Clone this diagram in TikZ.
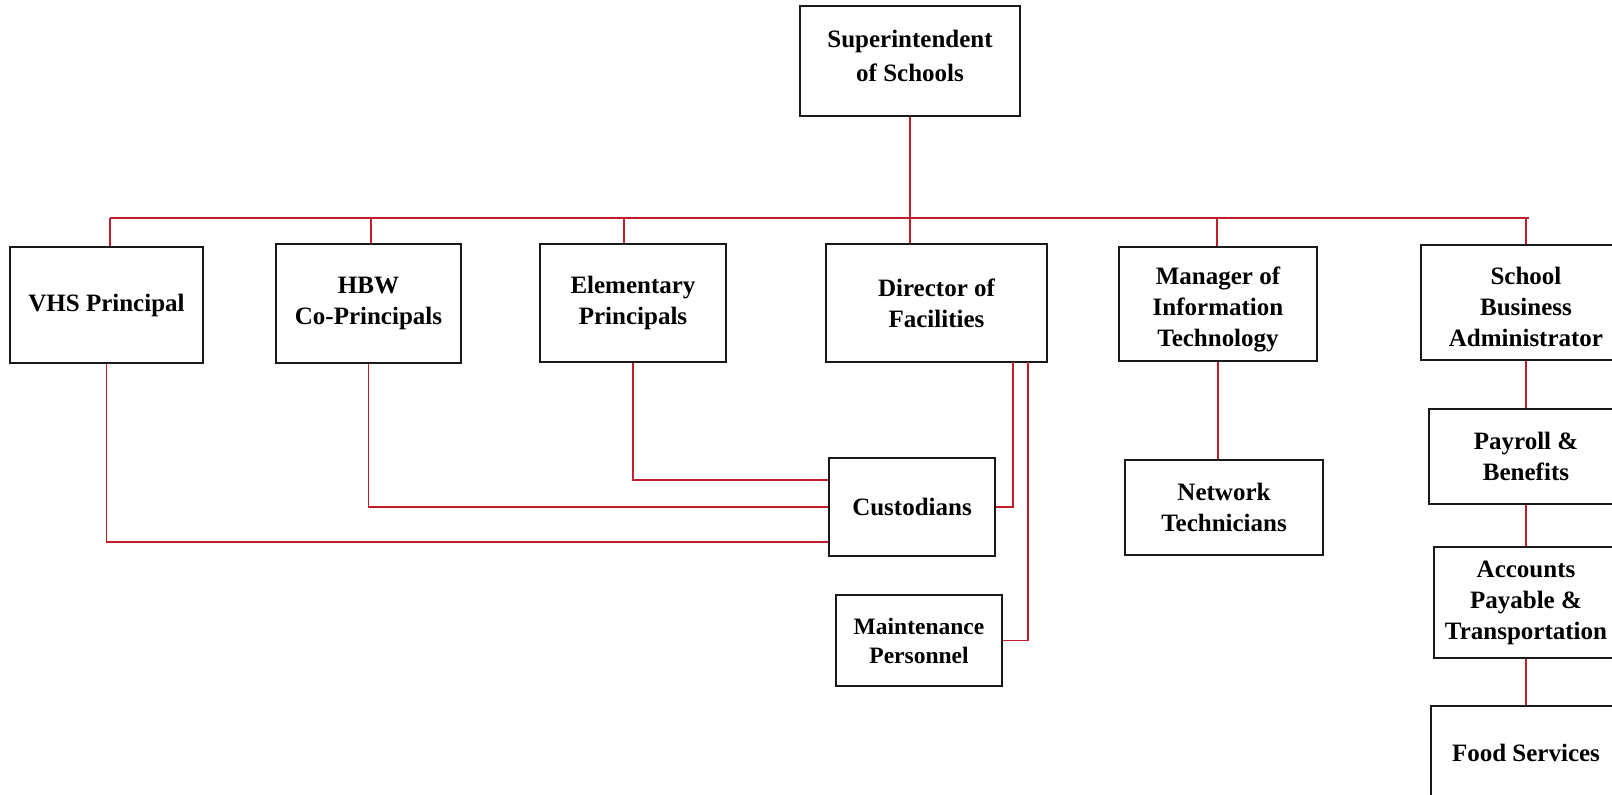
\documentclass[tikz,border=0pt]{standalone}
\usepackage{fontspec}
\setmainfont{Liberation Serif}
\usetikzlibrary{calc}
\definecolor{linered}{RGB}{192,30,45}
\tikzset{
  box/.style={draw=black!90, line width=2.2pt, fill=white, inner sep=0pt, align=center,
    font=\bfseries\fontsize{25}{31}\selectfont},
  smallbox/.style={box, font=\bfseries\fontsize{23.5}{29}\selectfont},
  conn/.style={draw=linered, line width=1.9pt}
}
\newcommand{\bx}[6][box]{% style, name, x1, y1, x2, y2
  \node[#1, minimum width={#5-#3}, minimum height={#6-#4}] (#2) at ({(#3+#5)/2},{(#4+#6)/2})}
\newcommand{\shiftlines}[2]{\raisebox{#1}[0pt][0pt]{\begin{tabular}{@{}c@{}}#2\end{tabular}}}
\begin{document}
\begin{tikzpicture}[x=1pt,y=-1pt]
\useasboundingbox[fill=white] (0,0) rectangle (1612,795);
\coordinate (busL) at (110,218);
\coordinate (busR) at (1529,218);
\coordinate (tHBW) at (371,218);
\coordinate (tEL) at (624,218);
\coordinate (tIT) at (1217,218);
\coordinate (tSBA) at (1526,218);
\coordinate (dA) at (1013,362);
\coordinate (dB) at (1028,362);
% boxes
\bx{sup}{800}{6}{1020}{116} {{\fontsize{25}{34}\selectfont\shiftlines{-3pt}{Superintendent\\of Schools}}};
\bx{vhs}{10}{247}{203}{363} {VHS Principal};
\bx{hbw}{276}{244}{461}{363} {HBW\\Co-Principals};
\bx{elem}{540}{244}{726}{362} {Elementary\\Principals};
\bx{dir}{826}{244}{1047}{362} {Director of\\Facilities};
\bx{it}{1119}{247}{1317}{361} {\shiftlines{-12pt}{Manager of\\Information\\Technology}};
\bx{sba}{1421}{245}{1631}{360} {\shiftlines{-13pt}{School\\Business\\Administrator}};
\bx{cust}{829}{458}{995}{556} {Custodians};
\bx[smallbox]{maint}{836}{595}{1002}{686} {Maintenance\\Personnel};
\bx{net}{1125}{460}{1323}{555} {Network\\Technicians};
\bx{pay}{1429}{409}{1623}{504} {Payroll \&\\Benefits};
\bx{acc}{1434}{547}{1618}{658} {Accounts\\Payable \&\\Transportation};
\bx{food}{1431}{706}{1621}{800} {Food Services};
% top bus and drops
\draw[conn] (busL) -- (busR);
\draw[conn] (sup.south) -- (sup.south |- dir.north);
\draw[conn] (busL) -- (busL |- vhs.north);
\draw[conn] (tHBW) -- (tHBW |- hbw.north);
\draw[conn] (tEL) -- (tEL |- elem.north);
\draw[conn] (tIT) -- (tIT |- it.north);
\draw[conn] (tSBA) -- (tSBA |- sba.north);
% to custodians
\draw[conn] (vhs.south) |- ($(cust.west)+(0,35)$);
\draw[conn] (hbw.south) |- (cust.west);
\draw[conn] (elem.south) |- ($(cust.west)+(0,-27)$);
\draw[conn] (dA) |- (cust.east);
\draw[conn] (dB) |- (maint.east);
% IT
\draw[conn] (it.south) -- (it.south |- net.north);
% SBA chain
\draw[conn] (sba.south -| tSBA) -- (pay.north -| tSBA);
\draw[conn] (pay.south -| tSBA) -- (acc.north -| tSBA);
\draw[conn] (acc.south -| tSBA) -- (food.north -| tSBA);
\end{tikzpicture}
\end{document}
